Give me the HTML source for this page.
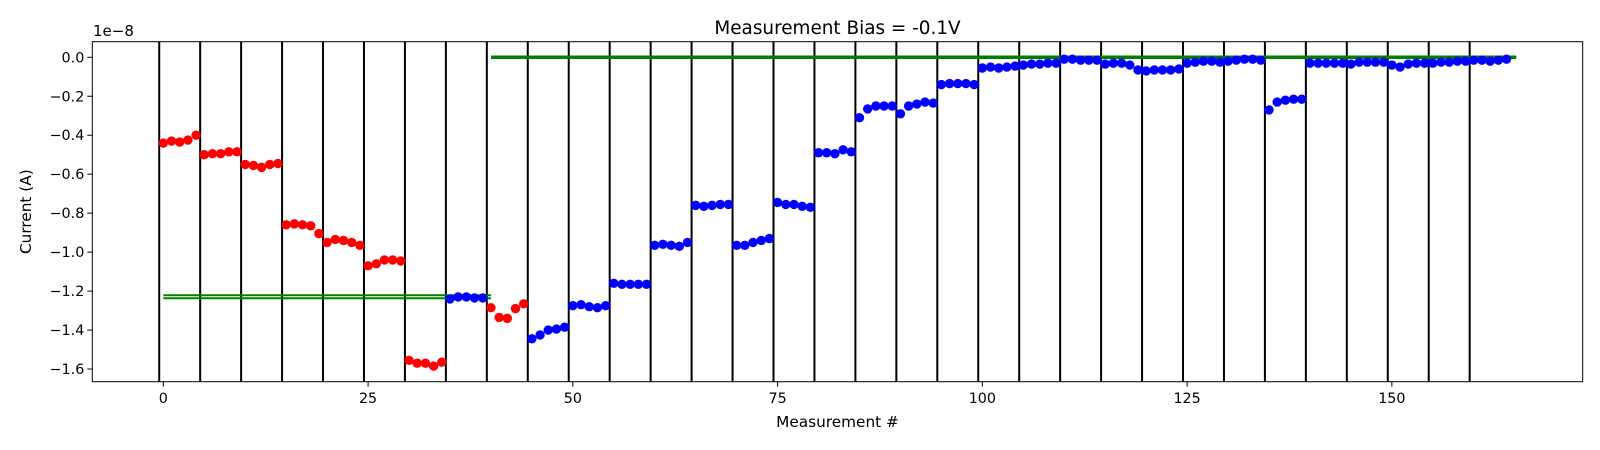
<!DOCTYPE html>
<html><head><meta charset="utf-8"><style>
html,body{margin:0;padding:0;background:#fff;width:1600px;height:450px;overflow:hidden;}
svg{display:block;}
svg text{font-family:"DejaVu Sans","Liberation Sans",sans-serif;fill:#000;}
</style></head><body>
<svg id="chart" width="1600" height="450" xmlns="http://www.w3.org/2000/svg">
<rect x="0" y="0" width="1600" height="450" fill="#fff"/>
<text x="837.5" y="34" font-size="18.4" text-anchor="middle">Measurement Bias = -0.1V</text>
<text x="93" y="36" font-size="15">1e−8</text>
<text transform="translate(31,211.7) rotate(-90)" font-size="15.3" text-anchor="middle">Current (A)</text>
<text x="837.5" y="427" font-size="15.3" text-anchor="middle">Measurement #</text>
<g id="plot"></g>
</svg>
<script>
const xTicks=[0,25,50,75,100,125,150];
const yTicks=[0,-0.2,-0.4,-0.6,-0.8,-1.0,-1.2,-1.4,-1.6];
const yTickLabels=["0.0","−0.2","−0.4","−0.6","−0.8","−1.0","−1.2","−1.4","−1.6"];
const values=[
-0.44,-0.43,-0.435,-0.425,-0.40,
-0.50,-0.495,-0.495,-0.485,-0.485,
-0.55,-0.555,-0.565,-0.55,-0.545,
-0.86,-0.855,-0.86,-0.865,-0.905,
-0.95,-0.935,-0.94,-0.95,-0.965,
-1.07,-1.06,-1.04,-1.04,-1.045,
-1.555,-1.57,-1.57,-1.585,-1.565,
-1.24,-1.23,-1.23,-1.235,-1.235,
-1.285,-1.335,-1.34,-1.29,-1.265,
-1.445,-1.425,-1.40,-1.395,-1.385,
-1.275,-1.27,-1.28,-1.285,-1.275,
-1.16,-1.165,-1.165,-1.165,-1.165,
-0.965,-0.96,-0.965,-0.97,-0.95,
-0.76,-0.765,-0.76,-0.755,-0.755,
-0.965,-0.965,-0.95,-0.94,-0.93,
-0.745,-0.755,-0.755,-0.765,-0.77,
-0.49,-0.49,-0.495,-0.475,-0.485,
-0.31,-0.265,-0.25,-0.25,-0.25,
-0.29,-0.25,-0.24,-0.23,-0.235,
-0.14,-0.135,-0.135,-0.135,-0.14,
-0.055,-0.05,-0.055,-0.05,-0.045,
-0.04,-0.035,-0.035,-0.03,-0.03,
-0.01,-0.01,-0.015,-0.015,-0.015,
-0.035,-0.03,-0.03,-0.04,-0.065,
-0.07,-0.065,-0.065,-0.065,-0.06,
-0.03,-0.025,-0.02,-0.02,-0.025,
-0.02,-0.015,-0.01,-0.01,-0.015,
-0.27,-0.23,-0.22,-0.215,-0.215,
-0.03,-0.03,-0.03,-0.03,-0.03,
-0.035,-0.025,-0.025,-0.025,-0.025,
-0.04,-0.05,-0.035,-0.03,-0.03,
-0.03,-0.025,-0.025,-0.02,-0.02,
-0.015,-0.015,-0.02,-0.015,-0.01];
const redGroups=[0,1,2,3,4,5,6,8];
const separators=[-0.5,4.5,9.5,14.5,19.5,24.5,29.5,34.5,39.5,44.5,49.5,54.5,59.5,64.5,69.5,74.5,79.5,84.5,89.5,94.5,99.5,104.5,109.5,114.5,119.5,124.5,129.5,134.5,139.5,144.5,149.5,154.5,159.5];
const refLow=[-1.221,-1.237];
const refLowRange=[0,40];
const refHigh=0;
const refHighRange=[40,165.2];

const L=92.3,R=1582.7,T=41.7,B=381.7;
const xMin=-8.67,xMax=173.3,yMin=-1.665,yMax=0.080;
const X=v=>L+(v-xMin)/(xMax-xMin)*(R-L);
const Y=v=>B-(v-yMin)/(yMax-yMin)*(B-T);
const NS="http://www.w3.org/2000/svg";
const g=document.getElementById('plot');
function mk(t,a){const e=document.createElementNS(NS,t);for(const k in a)e.setAttribute(k,a[k]);g.appendChild(e);return e;}

separators.forEach(s=>{
 const e=mk('line',{x1:X(s),x2:X(s),y1:T,y2:B,stroke:'#000','stroke-width':2});
 
 
});
refLow.forEach(v=>{
 const e=mk('line',{x1:X(refLowRange[0]),x2:X(refLowRange[1]),y1:Y(v),y2:Y(v),stroke:'green','stroke-width':2});
 
 
});
{const e=mk('line',{x1:X(refHighRange[0]),x2:X(refHighRange[1]),y1:Y(refHigh),y2:Y(refHigh),stroke:'green','stroke-width':3.5});
 
 }
values.forEach((v,i)=>{
 const red=redGroups.includes(Math.floor(i/5));
 const c=mk('circle',{cx:X(i),cy:Y(v),r:4.7,fill:red?'#ff0000':'#0000ff'});
 
 
});
{const e=mk('rect',{x:L,y:T,width:R-L,height:B-T,fill:'none',stroke:'#000','stroke-width':1});
 
 }
xTicks.forEach(t=>{
 const l=mk('line',{x1:X(t),x2:X(t),y1:B,y2:B+5,stroke:'#000','stroke-width':1});
 
 
 const tx=mk('text',{x:X(t),y:B+21.5,'font-size':14.3,'text-anchor':'middle'});
 tx.textContent=t;
 
 
});
yTicks.forEach((t,i)=>{
 const l=mk('line',{x1:L-5,x2:L,y1:Y(t),y2:Y(t),stroke:'#000','stroke-width':1});
 
 
 const tx=mk('text',{x:L-8,y:Y(t)+5,'font-size':14.3,'text-anchor':'end'});
 tx.textContent=yTickLabels[i];
 
 
});
</script>
</body></html>
